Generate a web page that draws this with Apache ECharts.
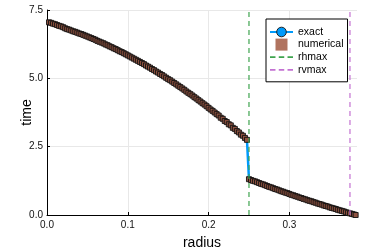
<!DOCTYPE html>
<html><head><meta charset="utf-8">
<script src="https://cdn.jsdelivr.net/npm/echarts@6/dist/echarts.min.js"></script>
<style>html,body{margin:0;padding:0;background:#fff}#c{width:374px;height:249px}</style>
</head><body><div id="c"></div>
<script>
// radius / time before the jump (r < rhmax)
const radiusInner = [0.0025,0.005,0.0075,0.010,0.0125,0.015,0.0175,0.020,0.0225,0.025,0.0275,0.030,0.0325,0.035,0.0375,0.040,0.0425,0.045,0.0475,0.050,0.0525,0.055,0.0575,0.060,0.0625,0.065,0.0675,0.070,0.0725,0.075,0.0775,0.080,0.0825,0.085,0.0875,0.090,0.0925,0.095,0.0975,0.100,0.1025,0.105,0.1075,0.110,0.1125,0.115,0.1175,0.120,0.1225,0.125,0.1275,0.130,0.1325,0.135,0.1375,0.140,0.1425,0.145,0.1475,0.150,0.1525,0.155,0.1575,0.160,0.1625,0.165,0.1675,0.170,0.1725,0.175,0.1775,0.180,0.1825,0.185,0.1875,0.190,0.1925,0.195,0.1975,0.200,0.2025,0.205,0.2075,0.210,0.2125,0.215,0.2175,0.220,0.2225,0.225,0.2275,0.230,0.2325,0.235,0.2375,0.240,0.2425,0.245,0.2475];
const timeInner   = [7.05,7.03,7.00,6.98,6.95,6.92,6.90,6.87,6.83,6.80,6.78,6.75,6.72,6.70,6.67,6.64,6.62,6.59,6.56,6.53,6.50,6.47,6.44,6.41,6.37,6.34,6.31,6.28,6.24,6.21,6.17,6.14,6.10,6.07,6.03,5.99,5.96,5.92,5.88,5.84,5.80,5.76,5.72,5.68,5.64,5.60,5.56,5.52,5.47,5.43,5.39,5.34,5.30,5.25,5.21,5.16,5.12,5.07,5.02,4.97,4.93,4.88,4.83,4.78,4.73,4.68,4.63,4.58,4.52,4.47,4.42,4.37,4.31,4.26,4.20,4.15,4.09,4.04,3.98,3.92,3.86,3.81,3.75,3.69,3.64,3.56,3.52,3.44,3.40,3.32,3.28,3.19,3.15,3.07,3.02,2.94,2.90,2.82,2.75];
// radius / time after the jump
const radiusOuter = [0.2500,0.2525,0.2550,0.2575,0.2600,0.2625,0.2650,0.2675,0.2700,0.2725,0.2750,0.2775,0.2800,0.2825,0.2850,0.2875,0.2900,0.2925,0.2950,0.2975,0.3000,0.3025,0.3050,0.3075,0.3100,0.3125,0.3150,0.3175,0.3200,0.3225,0.3250,0.3275,0.3300,0.3325,0.3350,0.3375,0.3400,0.3425,0.3450,0.3475,0.3500,0.3525,0.3550,0.3575,0.3600,0.3625,0.3650,0.3675,0.3700,0.3725,0.3750,0.3775,0.3800,0.3820];
const timeOuter   = [1.31,1.28,1.25,1.23,1.20,1.17,1.14,1.12,1.09,1.06,1.03,1.01,0.98,0.95,0.93,0.90,0.87,0.85,0.82,0.80,0.77,0.74,0.72,0.69,0.67,0.64,0.62,0.59,0.57,0.54,0.52,0.50,0.47,0.45,0.42,0.40,0.38,0.35,0.33,0.31,0.28,0.26,0.24,0.22,0.19,0.17,0.15,0.13,0.10,0.08,0.06,0.04,0.02,0.00];
const rhmax = 0.25;
const rvmax = 0.375;
const xTicks = [0, 0.1, 0.2, 0.3];
const yTicks = [0, 2.5, 5, 7.5];

const pts = radiusInner.map((r,i)=>[r,timeInner[i]]).concat(radiusOuter.map((r,i)=>[r,timeOuter[i]]));
const FONT = 'Liberation Sans';
const dashIcon = 'path://M0,0H5V1.6H0Z M8,0H13V1.6H8Z M16,0H21V1.6H16Z';

const chart = echarts.init(document.getElementById('c'), null, {renderer:'canvas'});
chart.setOption({
  animation:false,
  backgroundColor:'#fff',
  grid:{left:47, right:17, top:10, bottom:34, containLabel:false, outerBoundsMode:'none'},
  xAxis:{
    type:'value', min:0, max:0.3837,
    name:'radius', nameLocation:'middle', nameGap:21, nameMoveOverlap:false,
    nameTextStyle:{fontFamily:FONT, fontSize:14, color:'#000'},
    axisLine:{show:true, onZero:false, lineStyle:{color:'#000', width:1}},
    axisTick:{show:true, inside:true, length:3, customValues:xTicks, lineStyle:{color:'#000'}},
    axisLabel:{customValues:xTicks, formatter:v=>v.toFixed(1), fontFamily:FONT, fontSize:10, color:'#111', margin:5},
    splitLine:{show:true, lineStyle:{color:'#e8e8e8', width:1}}
  },
  yAxis:{
    type:'value', min:0, max:7.5, interval:2.5,
    name:'time', nameLocation:'middle', nameGap:13, nameRotate:90, nameMoveOverlap:false,
    nameTextStyle:{fontFamily:FONT, fontSize:14, color:'#000'},
    axisLine:{show:true, onZero:false, lineStyle:{color:'#000', width:1}},
    axisTick:{show:true, inside:true, length:3, customValues:yTicks, lineStyle:{color:'#000'}},
    axisLabel:{customValues:yTicks, formatter:v=>v.toFixed(1), fontFamily:FONT, fontSize:10, color:'#111', margin:4},
    splitLine:{show:true, lineStyle:{color:'#e8e8e8', width:1}}
  },
  legend:{
    orient:'vertical', left:266, top:19, itemWidth:23, itemHeight:12, itemGap:0.6,
    padding:[7,4,6,3], backgroundColor:'#fff', borderColor:'#000', borderWidth:1, borderRadius:0,
    symbolKeepAspect:true,
    textStyle:{fontFamily:FONT, fontSize:10.5, color:'#000', lineHeight:12},
    data:[
      {name:'exact', itemStyle:{borderColor:'#222', borderWidth:1}},
      {name:'numerical', icon:'path://M0,0H10V10H0Z', itemStyle:{color:'#B0735F', borderWidth:0}},
      {name:'rhmax', icon:dashIcon, itemStyle:{borderWidth:0}},
      {name:'rvmax', icon:dashIcon, itemStyle:{borderWidth:0}}
    ]
  },
  series:[
    {name:'exact', type:'line', data:pts, symbol:'circle', symbolSize:9, showSymbol:false,
     lineStyle:{color:'#009AFA', width:2.5}, itemStyle:{color:'#009AFA'}, z:2},
    {name:'numerical', type:'scatter', data:pts, symbol:'rect', symbolSize:5,
     itemStyle:{color:'#8E5240', borderColor:'#111', borderWidth:0.9, opacity:1}, z:3},
    {name:'rhmax', type:'line', data:[[rhmax,0],[rhmax,7.5]], symbol:'none',
     lineStyle:{color:'#3EA44E', width:1.2, type:[5,4]}, itemStyle:{color:'#3EA44E'}, z:4},
    {name:'rvmax', type:'line', data:[[rvmax,0],[rvmax,7.5]], symbol:'none',
     lineStyle:{color:'#C371D2', width:1.2, type:[5,4]}, itemStyle:{color:'#C371D2'}, z:4}
  ]
});
</script></body></html>
